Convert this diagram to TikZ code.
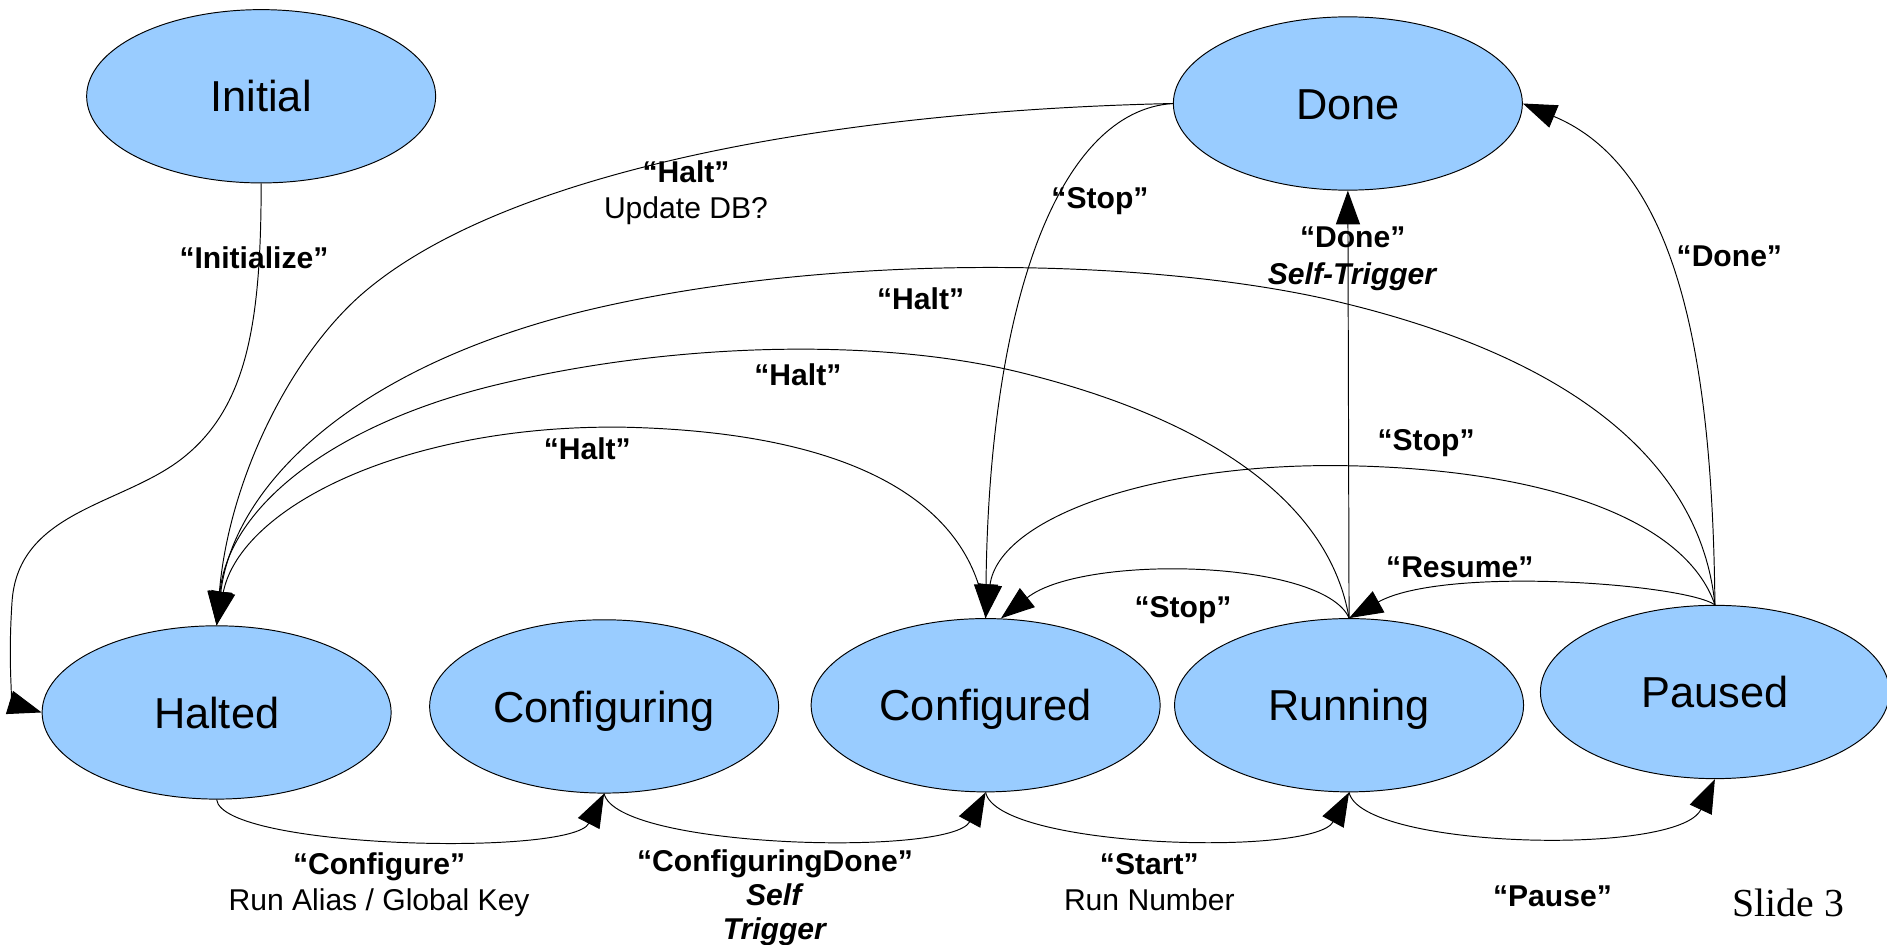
\documentclass[tikz,border=0pt]{standalone}
\usepackage{fontspec}
\setmainfont{Liberation Sans}
\newfontfamily\slidefont{Liberation Serif}
\usetikzlibrary{shapes.geometric,arrows.meta}
\definecolor{stateblue}{HTML}{99CCFF}
\begin{document}
\begin{tikzpicture}[x=1pt,y=-1pt,
  state/.style={ellipse, draw=black, line width=0.8pt, fill=stateblue,
    minimum width=290pt, minimum height=144pt, inner sep=0pt,
    text height=26pt, text depth=0pt,
    font=\fontsize{36}{40}\selectfont},
  trans/.style={draw=black, line width=0.8pt, -{Triangle[length=28pt,width=20pt]}},
  lbl/.style={font=\fontsize{25}{30}\selectfont, align=center, inner sep=0pt}]
\useasboundingbox (0,0) rectangle (1568,785);
% states
\node[state] (initial) at (217,80) {Initial};
\node[state] (done) at (1120,86) {Done};
\node[state] (halted) at (180,592) {Halted};
\node[state] (configuring) at (502,587) {Configuring};
\node[state] (configured) at (819,586) {Configured};
\node[state] (running) at (1121,586) {Running};
\node[state] (paused) at (1425,575) {Paused};
% transitions
\draw[trans] (initial.south) .. controls (217,270) and (205,340) .. (150,382)
  .. controls (100,420) and (15,425) .. (10,500) .. controls (6,560) and (12,585) .. (halted.west);
\draw[trans] (done.west) .. controls (700,92) and (420,140) .. (300,245)
  .. controls (240,298) and (190,400) .. (halted.north);
\draw[trans] (done.west) .. controls (880,92) and (822,250) .. (configured.north);
\draw[trans] (running.north) -- (done.south);
\draw[trans] (paused.north) .. controls (1423,300) and (1395,140) .. (done.east);
\draw[trans] (paused.north) .. controls (1415,400) and (1330,300) .. (1100,248)
  .. controls (950,215) and (700,210) .. (500,255)
  .. controls (300,300) and (195,400) .. (halted.north);
\draw[trans] (running.north) .. controls (1105,420) and (1010,350) .. (850,310)
  .. controls (730,280) and (560,285) .. (420,318)
  .. controls (280,350) and (190,420) .. (halted.north);
\draw[trans] (configured.north) .. controls (810,430) and (730,360) .. (520,355)
  .. controls (340,352) and (200,420) .. (halted.north);
\draw[trans] (paused.north) .. controls (1400,430) and (1280,390) .. (1120,387)
  .. controls (960,384) and (830,430) .. (configured.north);
\draw[trans] (running.north) .. controls (1100,465) and (900,460) .. (configured.80);
\draw[trans] (paused.north) .. controls (1400,485) and (1200,470) .. (running.north);
\draw[trans] (halted.south) .. controls (185,705) and (475,712) .. (configuring.south);
\draw[trans] (configuring.south) .. controls (512,705) and (790,712) .. (configured.south);
\draw[trans] (configured.south) .. controls (829,705) and (1092,712) .. (running.south);
\draw[trans] (running.south) .. controls (1131,705) and (1395,712) .. (paused.south);
% labels
\node[lbl] (linit) at (211,214) {\textbf{“Initialize”}};
\node[lbl] (lhaltdb) at (570,160) {\textbf{“Halt”}\\Update DB?};
\node[lbl] (lstopdone) at (914,167) {\textbf{“Stop”}};
\node[lbl] (lselfdone) at (1124,215) {\textbf{“Done”}\\\textbf{\itshape Self-Trigger}};
\node[lbl] (ldone) at (1437,213) {\textbf{“Done”}};
\node[lbl] (lhaltone) at (765,248) {\textbf{“Halt”}};
\node[lbl] (lhalttwo) at (663,311) {\textbf{“Halt”}};
\node[lbl] (lhaltthree) at (488,373) {\textbf{“Halt”}};
\node[lbl] (lstopone) at (1185,368) {\textbf{“Stop”}};
\node[lbl] (lresume) at (1213,471) {\textbf{“Resume”}};
\node[lbl] (lstoptwo) at (983,507) {\textbf{“Stop”}};
\node[lbl] (lconfigure) at (315,735) {\textbf{“Configure”}\\Run Alias / Global Key};
\node[lbl, font=\fontsize{25}{28}\selectfont] (lcfgdone) at (644,746) {\textbf{“ConfiguringDone”}\\\textbf{\itshape Self}\\\textbf{\itshape Trigger}};
\node[lbl] (lstart) at (955,733) {\textbf{“Start”}\\Run Number};
\node[lbl] (lpause) at (1290,745) {\textbf{“Pause”}};
\node[font=\slidefont\fontsize{33}{36}\selectfont, inner sep=0pt] (slide) at (1486,750) {Slide 3};
\end{tikzpicture}
\end{document}
